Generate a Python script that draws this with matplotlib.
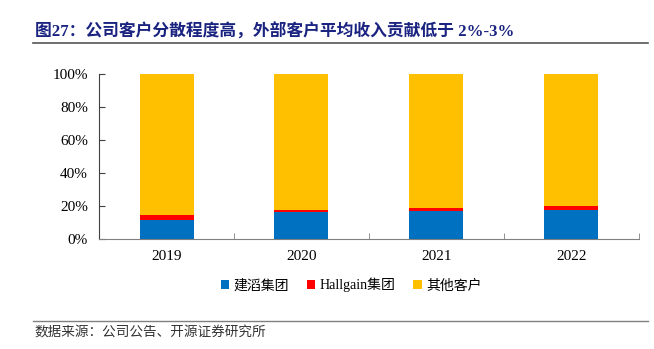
import matplotlib.pyplot as plt
import numpy as np

plt.rcParams['font.family'] = ['Liberation Serif', 'Noto Sans CJK SC']

years = ["2019", "2020", "2021", "2022"]
jianzhao = [11.8, 16.1, 16.7, 17.9]
hallgain = [3.0, 1.8, 2.4, 2.3]
others = [100 - a - b for a, b in zip(jianzhao, hallgain)]
y_ticks = [0, 20, 40, 60, 80, 100]

title = "图27：公司客户分散程度高，外部客户平均收入贡献低于 2%-3%"
source = "数据来源：公司公告、开源证券研究所"
names = ["建滔集团", "Hallgain集团", "其他客户"]
colors = ["#0070C0", "#FF0000", "#FFC000"]

fig = plt.figure(figsize=(6.54, 3.49), dpi=100)
ax = fig.add_axes([0.1514, 0.315, 0.8256, 0.473])

x = np.arange(len(years))
w = 0.4
b1 = ax.bar(x, jianzhao, w, color=colors[0], label=names[0])
b2 = ax.bar(x, hallgain, w, bottom=jianzhao, color=colors[1], label=names[1])
bot = np.array(jianzhao) + np.array(hallgain)
b3 = ax.bar(x, others, w, bottom=bot, color=colors[2], label=names[2])

ax.set_xlim(-0.5, len(years) - 0.5)
ax.set_ylim(0, 100)
ax.set_yticks(y_ticks)
ax.set_yticklabels([f"{v}%" for v in y_ticks], fontsize=11)
ax.set_xticks(x)
ax.set_xticklabels(years, fontsize=11)
ax.tick_params(axis='x', length=0, pad=8)
ax.set_xticks(np.arange(0.5, len(years) - 0.4, 1), minor=True)
ax.tick_params(axis='x', which='minor', direction='in', length=4, color='#808080')
ax.tick_params(axis='y', direction='in', length=4, pad=8, color='#404040')
for s in ['top', 'right']:
    ax.spines[s].set_visible(False)
ax.spines['left'].set_color('#404040')
ax.spines['bottom'].set_color('#808080')

fig.legend(handles=[b1, b2, b3], loc='center', bbox_to_anchor=(0.537, 0.183),
           ncol=3, frameon=False, handlelength=0.6, handleheight=0.6,
           columnspacing=1.3, handletextpad=0.3,
           prop={'family': ['Liberation Serif', 'Noto Sans CJK SC'], 'size': 10})

fig.text(0.054, 0.909, title, fontsize=12.1, fontweight='bold', color='#1A2380',
         va='center', ha='left')
fig.add_artist(plt.Line2D([0.05, 0.991], [0.877, 0.877], color='#555555', lw=1.2))
fig.add_artist(plt.Line2D([0.05, 0.991], [0.080, 0.080], color='#808080', lw=1.0))
fig.text(0.053, 0.046, source, fontsize=9.8, color='#333333', va='center', ha='left',
         family=['Noto Sans CJK SC'])

fig.savefig("out.png", dpi=100)
